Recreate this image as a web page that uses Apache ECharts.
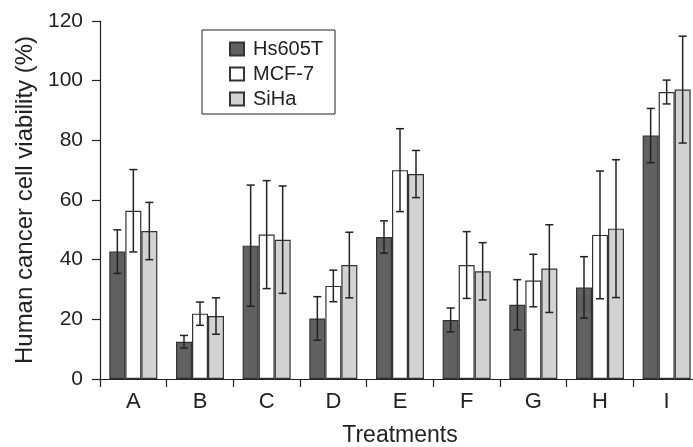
<!DOCTYPE html>
<html><head><meta charset="utf-8">
<script src="https://cdn.jsdelivr.net/npm/echarts@6/dist/echarts.min.js"></script>
<style>html,body{margin:0;padding:0;background:#fff}#c{width:693px;height:447px}</style>
</head><body><div id="c"></div>
<script>
var categories = ['A','B','C','D','E','F','G','H','I'];
var hs605t = [42.7, 12.5, 44.7, 20.3, 47.6, 19.8, 24.9, 30.7, 81.6];
var hs605tErr = [7.3, 2.1, 20.3, 7.3, 5.4, 4.0, 8.4, 10.3, 9.1];
var mcf7 = [56.4, 21.9, 48.4, 31.2, 70.0, 38.2, 33.0, 48.3, 96.2];
var mcf7Err = [13.8, 3.9, 18.1, 5.3, 13.9, 11.2, 8.8, 21.4, 4.0];
var siha = [49.6, 21.1, 46.7, 38.2, 68.7, 36.1, 37.0, 50.4, 97.0];
var sihaErr = [9.6, 6.1, 18.0, 11.0, 7.9, 9.6, 14.7, 23.1, 17.9];
var seriesNames = ['Hs605T', 'MCF-7', 'SiHa'];
var yMin = 0, yMax = 120, yStep = 20;

var FONT = 'Liberation Sans';
var chart = echarts.init(document.getElementById('c'));
var CAT_GAP = 0.28;

function errSeries(vals, errs, idx) {
  return {
    type: 'custom',
    silent: true,
    z: 5,
    data: vals.map(function (v, i) { return [i, v - errs[i], v + errs[i]]; }),
    renderItem: function (params, api) {
      var band = api.size([1, 0])[0];
      var bw = band * (1 - CAT_GAP) / 3;
      var off = (idx - 1) * bw;
      var lo = api.coord([api.value(0), api.value(1)]);
      var hi = api.coord([api.value(0), api.value(2)]);
      var x = lo[0] + off;
      var cap = 4;
      var st = { stroke: '#222', lineWidth: 1.5 };
      return { type: 'group', children: [
        { type: 'line', shape: { x1: x, y1: lo[1], x2: x, y2: hi[1] }, style: st },
        { type: 'line', shape: { x1: x - cap, y1: lo[1], x2: x + cap, y2: lo[1] }, style: st },
        { type: 'line', shape: { x1: x - cap, y1: hi[1], x2: x + cap, y2: hi[1] }, style: st }
      ]};
    }
  };
}

var colors = ['#606060', '#ffffff', '#d2d2d2'];
var vals = [hs605t, mcf7, siha];
var errs = [hs605tErr, mcf7Err, sihaErr];
var series = [];
for (var k = 0; k < 3; k++) {
  series.push({
    name: seriesNames[k], type: 'bar', data: vals[k],
    barGap: '0%', barCategoryGap: (CAT_GAP * 100) + '%',
    itemStyle: { color: colors[k], borderColor: '#333', borderWidth: 1.2 },
    emphasis: { disabled: true }
  });
}
for (var k = 0; k < 3; k++) series.push(errSeries(vals[k], errs[k], k));

chart.setOption({
  animation: false,
  backgroundColor: '#fff',
  grid: { left: 100, top: 21, bottom: 68, right: -7, containLabel: false, outerBoundsMode: 'none' },
  legend: {
    data: seriesNames, orient: 'vertical', left: 202, top: 30,
    icon: 'rect',
    itemWidth: 14, itemHeight: 13, itemGap: 5,
    padding: [9, 12, 5, 27],
    borderColor: '#222', borderWidth: 1,
    textStyle: { fontFamily: FONT, fontSize: 20, color: '#222', padding: [0, 0, 0, 4] }
  },
  xAxis: {
    type: 'category', data: categories,
    name: 'Treatments', nameLocation: 'middle', nameGap: 45,
    nameTextStyle: { fontFamily: FONT, fontSize: 23, color: '#222' },
    axisLine: { lineStyle: { color: '#222', width: 1.2 } },
    axisTick: { show: true, length: 8, lineStyle: { color: '#222', width: 1.2 } },
    axisLabel: { fontFamily: FONT, fontSize: 22, color: '#222', margin: 12 }
  },
  yAxis: {
    type: 'value', min: yMin, max: yMax, interval: yStep,
    name: 'Human cancer cell viability (%)', nameLocation: 'middle', nameGap: 63,
    nameTextStyle: { fontFamily: FONT, fontSize: 24, color: '#222' },
    axisLine: { show: true, lineStyle: { color: '#222', width: 1.2 } },
    axisTick: { show: true, length: 8, lineStyle: { color: '#222', width: 1.2 } },
    axisLabel: { fontFamily: FONT, fontSize: 21, color: '#222', margin: 17 },
    splitLine: { show: false }
  },
  series: series
});
</script></body></html>
